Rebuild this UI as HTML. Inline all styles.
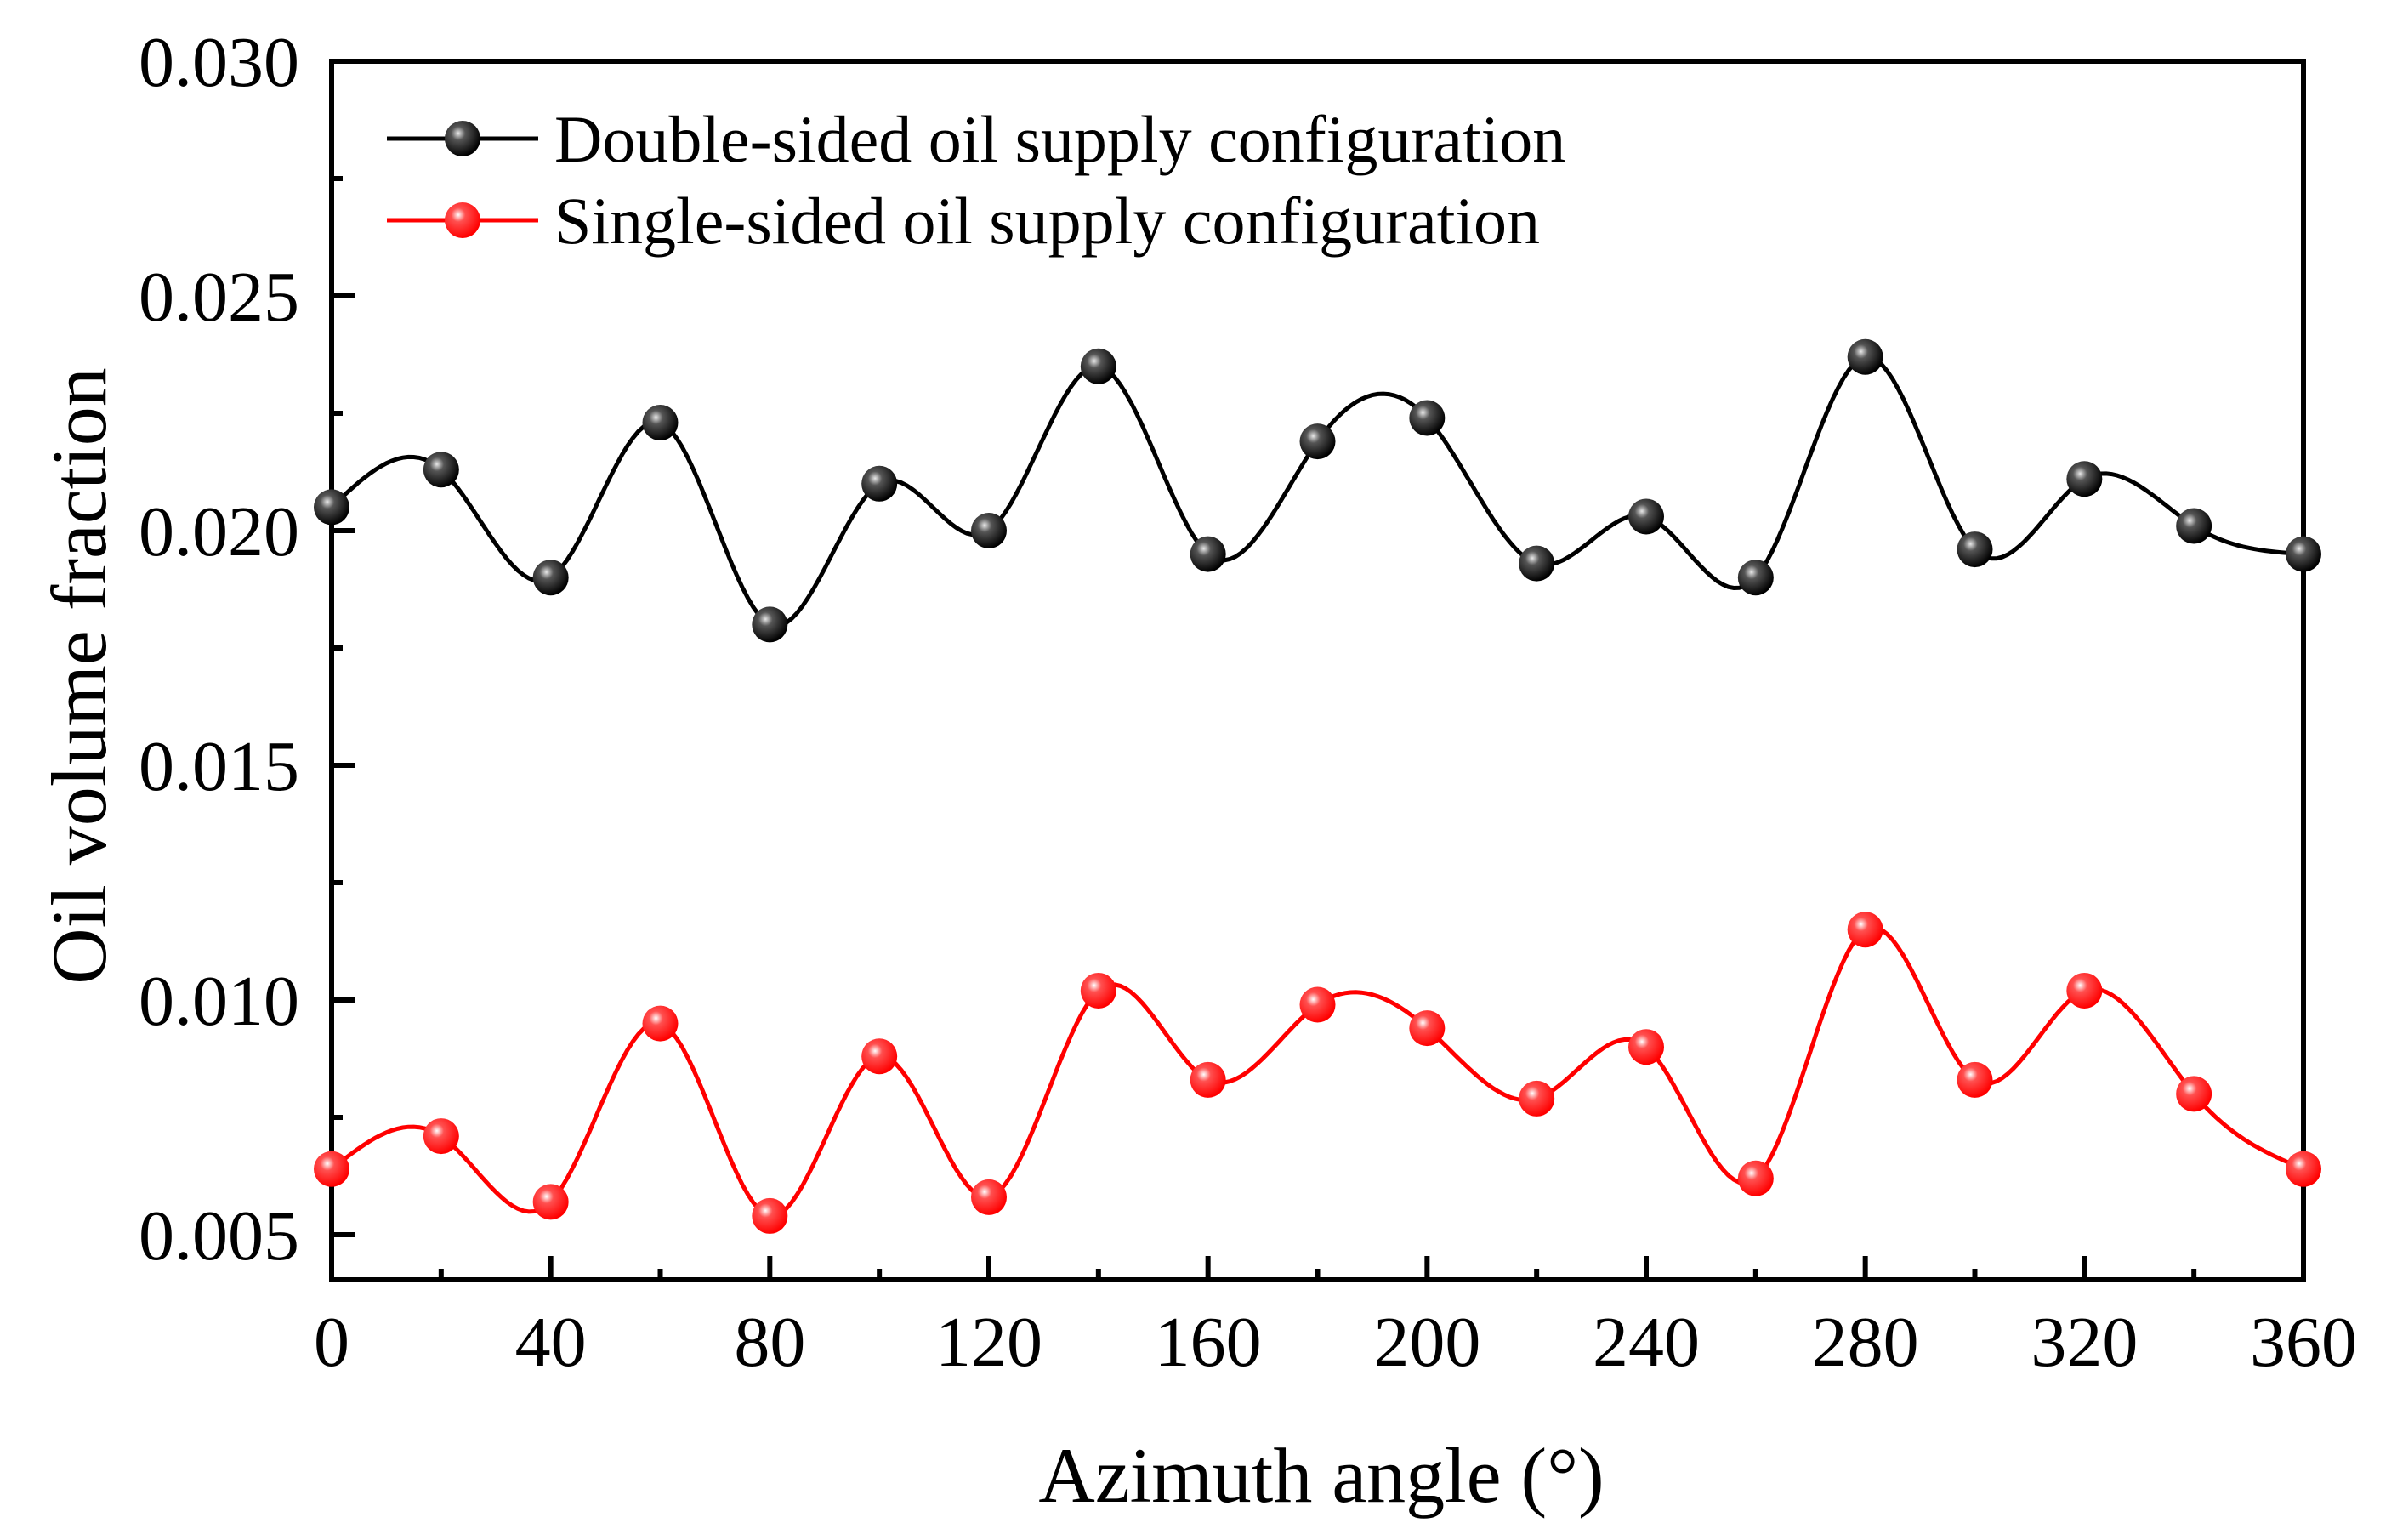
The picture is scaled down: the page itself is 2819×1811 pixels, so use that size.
<!DOCTYPE html>
<html><head><meta charset="utf-8"><style>
html,body{margin:0;padding:0;background:#fff}
svg{display:block}
text{font-family:"Liberation Serif",serif;fill:#000}
</style></head><body>
<svg id="chart" width="2819" height="1811" viewBox="0 0 2819 1811" xmlns="http://www.w3.org/2000/svg">
<defs>
<radialGradient id="gBlack" cx="0.38" cy="0.35" r="0.65"><stop offset="0" stop-color="#e8e8e8"/><stop offset="0.3" stop-color="#555"/><stop offset="1" stop-color="#000"/></radialGradient>
<radialGradient id="gRed" cx="0.38" cy="0.35" r="0.65"><stop offset="0" stop-color="#fff"/><stop offset="0.3" stop-color="#ff5050"/><stop offset="1" stop-color="#f00"/></radialGradient>
</defs>
<g id="plot"></g>
</svg>
<script>
const angles=[0,20,40,60,80,100,120,140,160,180,200,220,240,260,280,300,320,340,360];
const doubleSided=[0.0205,0.0213,0.0190,0.0223,0.0180,0.0210,0.0200,0.0235,0.0195,0.0219,0.0224,0.0193,0.0203,0.0190,0.0237,0.0196,0.0211,0.0201,0.0195];
const singleSided=[0.0064,0.0071,0.0057,0.0095,0.0054,0.0088,0.0058,0.0102,0.0083,0.0099,0.0094,0.0079,0.0090,0.0062,0.0115,0.0083,0.0102,0.0080,0.0064];
const xTicks=[0,40,80,120,160,200,240,280,320,360];
const yTicks=[0.005,0.010,0.015,0.020,0.025,0.030];
const yTickLabels=["0.005","0.010","0.015","0.020","0.025","0.030"];

const NS="http://www.w3.org/2000/svg";
const g=document.getElementById('plot');
const X0=390,X1=2709,YTOP=72,YBOT=1505;
const xs=a=>X0+(a-0)/(360-0)*(X1-X0);
const ys=v=>72+(0.030-v)/0.005*276;
function mk(tag,attrs,parent){const e=document.createElementNS(NS,tag);for(const k in attrs)e.setAttribute(k,attrs[k]);(parent||g).appendChild(e);return e;}

const frame=mk('rect',{x:X0,y:YTOP,width:X1-X0,height:YBOT-YTOP,fill:'none',stroke:'#000','stroke-width':6});



for(let a=0;a<=360;a+=20){
  const major=a%40===0;
  const t=mk('line',{x1:xs(a),x2:xs(a),y1:YBOT,y2:YBOT-(major?28:13),stroke:'#000','stroke-width':6});
  
  
}
xTicks.forEach(a=>{
  const t=mk('text',{x:xs(a),y:1606,'font-size':84,'text-anchor':'middle'});
  t.textContent=a;
  
  
});
for(let i=0;i<11;i++){
  const v=0.005+i*0.0025;
  const major=i%2===0;
  const t=mk('line',{x1:X0,x2:X0+(major?28:13),y1:ys(v),y2:ys(v),stroke:'#000','stroke-width':6});
  
  
}
yTicks.forEach((v,i)=>{
  const t=mk('text',{x:352,y:ys(v)+29,'font-size':84,'text-anchor':'end'});
  t.textContent=yTickLabels[i];
  
  
});
const xt=mk('text',{x:1554,y:1766,'font-size':92,'text-anchor':'middle'});
xt.textContent='Azimuth angle (°)';


const yt=mk('text',{x:0,y:0,'font-size':92,'text-anchor':'middle',transform:'translate(124,795) rotate(-90)'});
yt.textContent='Oil volume fraction';



function spline(xv,yv){
  const n=xv.length,h=[],al=[],l=[1],mu=[0],z=[0],c=new Array(n).fill(0),b=[],d=[];
  for(let i=0;i<n-1;i++)h.push(xv[i+1]-xv[i]);
  for(let i=1;i<n-1;i++)al[i]=3/h[i]*(yv[i+1]-yv[i])-3/h[i-1]*(yv[i]-yv[i-1]);
  for(let i=1;i<n-1;i++){l[i]=2*(xv[i+1]-xv[i-1])-h[i-1]*mu[i-1];mu[i]=h[i]/l[i];z[i]=(al[i]-h[i-1]*z[i-1])/l[i];}
  for(let j=n-2;j>=0;j--){c[j]=z[j]-mu[j]*c[j+1];b[j]=(yv[j+1]-yv[j])/h[j]-h[j]*(c[j+1]+2*c[j])/3;d[j]=(c[j+1]-c[j])/(3*h[j]);}
  return t=>{let i=Math.min(n-2,Math.max(0,xv.findIndex((x,k)=>k<n-1&&t<=xv[k+1])));const dx=t-xv[i];return yv[i]+b[i]*dx+c[i]*dx*dx+d[i]*dx*dx*dx;};
}
function series(vals,color,grad,name){
  const f=spline(angles,vals);
  let p='';
  for(let a=0;a<=360;a+=1){p+=(a?'L':'M')+xs(a).toFixed(1)+','+ys(f(a)).toFixed(1);}
  const path=mk('path',{d:p,fill:'none',stroke:color,'stroke-width':5});
  
  
  angles.forEach((a,i)=>{
    const c=mk('circle',{cx:xs(a),cy:ys(vals[i]),r:21,fill:'url(#'+grad+')'});
    
    
  });
}
series(doubleSided,'#000','gBlack','double-sided');
series(singleSided,'#f00','gRed','single-sided');

[[163,'#000','gBlack','Double-sided oil supply configuration','legend-double-sided'],[259,'#f00','gRed','Single-sided oil supply configuration','legend-single-sided']].forEach(r=>{
  const grp=mk('g',{});
  
  
  mk('line',{x1:455,x2:633,y1:r[0],y2:r[0],stroke:r[1],'stroke-width':5},grp);
  mk('circle',{cx:544,cy:r[0],r:21,fill:'url(#'+r[2]+')'},grp);
  const t=mk('text',{x:652,y:r[0]+27,'font-size':78},grp);
  t.textContent=r[3];
});
</script>
</body></html>
